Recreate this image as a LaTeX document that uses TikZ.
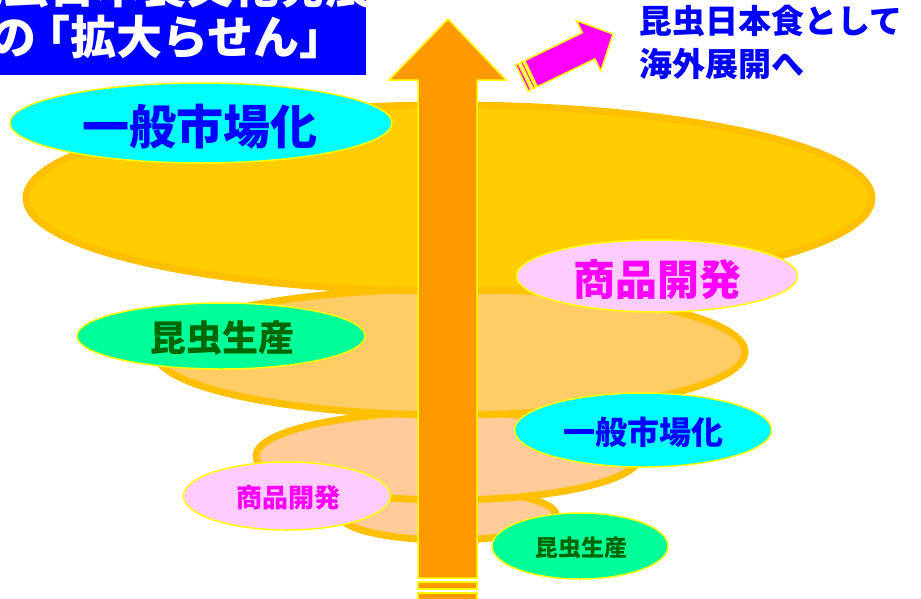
\documentclass[tikz,border=0pt]{standalone}
\usepackage{fontspec}
\newfontfamily\jp{Noto Sans CJK JP}
\definecolor{gold}{HTML}{FFCC00}
\definecolor{goldline}{HTML}{FFC000}
\definecolor{layerb}{HTML}{FFCC66}
\definecolor{layerc}{HTML}{FFCC99}
\definecolor{arroworange}{HTML}{FF9900}
\definecolor{cyanfill}{HTML}{00FFFF}
\definecolor{pinkfill}{HTML}{FFCCFF}
\definecolor{greenfill}{HTML}{00FF99}
\definecolor{darkgreen}{HTML}{006600}
\definecolor{pureblue}{HTML}{0000FF}
\definecolor{puremagenta}{HTML}{FF00FF}
\definecolor{pureyellow}{HTML}{FFFF00}
\tikzset{
  layer/.style={draw=goldline, line width=7pt},
  bubble/.style={ellipse, draw=pureyellow, line width=1.5pt, inner sep=0pt},
  arrowbody/.style={draw=pureyellow, line width=1.5pt, line join=miter},
  jplabel/.style={font=\jp\bfseries, inner sep=0pt},
}
\usetikzlibrary{shapes.geometric}
\begin{document}
\begin{tikzpicture}[x=1pt,y=-1pt]
\useasboundingbox (0,0) rectangle (921,598);
\clip (0,0) rectangle (921,598);
% spiral layers (bottom first)
\path[layer, fill=layerc] (448,515) ellipse [x radius=108, y radius=25];
\path[layer, fill=layerc] (448,456) ellipse [x radius=192, y radius=44];
\path[layer, fill=layerb] (450,352) ellipse [x radius=295, y radius=63];
\path[layer, fill=gold] (449,198) ellipse [x radius=423, y radius=93];
% main arrow
\coordinate (mt) at (448,19);
\draw[arrowbody, fill=arroworange] (418,578) -- (418,80) -- (389,80) -- (mt) -- (506,80) -- (477,80) -- (477,578) -- cycle;
\draw[arrowbody, fill=arroworange] (418,582) rectangle (477,589);
\draw[arrowbody, fill=arroworange] (418,593) rectangle (477,601);
% magenta arrow
\begin{scope}[shift={(522,78)}, rotate=25.8]
\draw[arrowbody, fill=puremagenta] (10,-14.5) -- (74,-14.5) -- (74,-28) -- (101,0) -- (74,28) -- (74,14.5) -- (10,14.5) -- cycle;
\draw[arrowbody, fill=puremagenta] (0,-14.5) rectangle (3,14.5);
\draw[arrowbody, fill=puremagenta] (5.5,-14.5) rectangle (8,14.5);
\end{scope}
% title box
\fill[pureblue] (0,0) rectangle (366,75);
\node[jplabel, text=white, anchor=east, font=\jp\bfseries\fontsize{46}{46}\selectfont] (t1) at (372,-14) {昆虫日本食文化発展};
\node[jplabel, text=white, anchor=west, font=\jp\bfseries\fontsize{46}{46}\selectfont] (t2) at (-10,37) {の\kern-12pt「拡大らせん」};
% overseas text
\node[jplabel, text=pureblue, anchor=north west, align=left, font=\jp\bfseries\fontsize{33}{43}\selectfont] (ov) at (639,5) {昆虫日本食として\\海外展開へ};
% label bubbles
\node[bubble, fill=cyanfill, minimum width=382, minimum height=80] (b1) at (201,123) {};
\node[jplabel, text=pureblue, font=\jp\bfseries\fontsize{47}{47}\selectfont] at (200,127) {一般市場化};
\node[bubble, fill=pinkfill, minimum width=281, minimum height=72] (b2) at (657,276) {};
\node[jplabel, text=puremagenta, font=\jp\bfseries\fontsize{42}{42}\selectfont] at (657,280) {商品開発};
\node[bubble, fill=greenfill, minimum width=288, minimum height=66] (b3) at (221,336) {};
\node[jplabel, text=darkgreen, font=\jp\bfseries\fontsize{36}{36}\selectfont] at (222,338) {昆虫生産};
\node[bubble, fill=cyanfill, minimum width=257, minimum height=74] (b4) at (643,430) {};
\node[jplabel, text=pureblue, font=\jp\bfseries\fontsize{32}{32}\selectfont] at (643,432) {一般市場化};
\node[bubble, fill=pinkfill, minimum width=207, minimum height=68] (b5) at (287,496) {};
\node[jplabel, text=puremagenta, font=\jp\bfseries\fontsize{26}{26}\selectfont] at (288,498) {商品開発};
\node[bubble, fill=greenfill, minimum width=176, minimum height=66] (b6) at (580,546) {};
\node[jplabel, text=darkgreen, font=\jp\bfseries\fontsize{23}{23}\selectfont] at (581,548) {昆虫生産};
\end{tikzpicture}
\end{document}
